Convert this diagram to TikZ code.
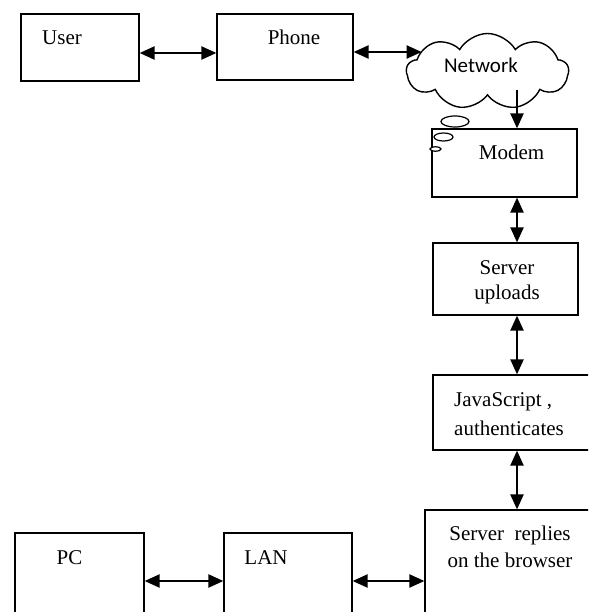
\documentclass[tikz,border=0pt]{standalone}
\usepackage{fontspec}
\setmainfont{Liberation Serif}
\newfontfamily\cloudfont{Carlito}
\usetikzlibrary{shapes.symbols,arrows.meta,positioning}

\tikzset{
  blk/.style={draw, line width=1.2pt, rectangle, inner sep=0pt},
  txt/.style={inner sep=0pt, font=\fontsize{21}{25}\selectfont},
  link/.style={line width=2.2pt, {Triangle[length=15pt,width=13pt]}-{Triangle[length=15pt,width=13pt]}},
  oneway/.style={line width=2.2pt, -{Triangle[length=15pt,width=13pt]}},
  bubble/.style={draw, line width=1.2pt, fill=white}
}

\begin{document}
\begin{tikzpicture}[x=1pt, y=-1pt]
    \useasboundingbox (0,0) rectangle (588,612);
    \clip (0,0) rectangle (588,612);

    % top row
    \node[blk, minimum width=118pt, minimum height=67pt] (user) at (80,47.5) {};
    \node[blk, minimum width=136pt, minimum height=66pt] (phone) at (285,47) {};
    \node[txt, anchor=base] (usertxt) at (62,45) {User};
    \node[txt, anchor=base] (phonetxt) at (294,45) {Phone};

    % right column
    \node[blk, minimum width=145pt, minimum height=68pt] (modem) at (504.5,163) {};
    \node[blk, minimum width=145pt, minimum height=72pt] (upload) at (505.5,279) {};
    \node[blk, minimum width=168pt, minimum height=75pt] (js) at (517,412.5) {};
    \node[blk, minimum width=200pt, minimum height=144pt] (reply) at (525,582) {};
    \node[txt, anchor=base] (modemtxt) at (511.5,160) {Modem};
    \node[txt, anchor=base, align=center] (uploadtxt) at (507,299) {Server\\uploads};
    \node[txt, align=left, font=\fontsize{21}{29}\selectfont,
          anchor=base west] (jstxt) at (454,435) {JavaScript ,\\authenticates};
    \node[txt, anchor=base, align=center, font=\fontsize{21}{27}\selectfont]
          (replytxt) at (510,567) {Server~ replies\\on the browser};

    % bottom row
    \node[blk, minimum width=129pt, minimum height=96pt] (pc) at (79.5,581) {};
    \node[blk, minimum width=128pt, minimum height=96pt] (lan) at (288,581) {};
    \node[txt, anchor=base] (pctxt) at (69.5,564) {PC};
    \node[txt, anchor=base] (lantxt) at (266,564) {LAN};

    % cloud
    \node[cloud, draw, line width=1.4pt, fill=white, cloud puffs=9, cloud puff arc=120,
          aspect=2.2, minimum width=162pt, minimum height=76pt, inner sep=0pt]
          (network) at (487.5,71.5) {};
    \node[inner sep=0pt, anchor=base, font=\cloudfont\fontsize{21}{25}\selectfont]
          (nettxt) at (481,73) {Network};

    % connectors
    \draw[link] ([yshift=-5.5pt]user.east) -- ([yshift=-5.5pt]user.east -| phone.west);
    \draw[link] ([yshift=-5pt]phone.east) -- ([yshift=-5pt]phone.east -| network.162);
    \draw[oneway] ([yshift=6pt]network.south -| js.north) -- (js.north |- modem.north);
    \draw[link] (js.north |- modem.south) -- (js.north |- upload.north);
    \draw[link] (js.north |- upload.south) -- (js.north);
    \draw[link] (js.south) -- (js.south |- reply.north);
    \draw[link] (pc.east) -- (lan.west);
    \draw[link] (lan.east |- pc.east) -- (reply.west |- pc.east);

    % thought bubbles
    \draw[bubble] (455,121.5) ellipse [x radius=14, y radius=5.5];
    \draw[bubble] (443.5,137) ellipse [x radius=9.5, y radius=4];
    \draw[bubble] (435.5,149) ellipse [x radius=5.5, y radius=2.3];
\end{tikzpicture}
\end{document}
